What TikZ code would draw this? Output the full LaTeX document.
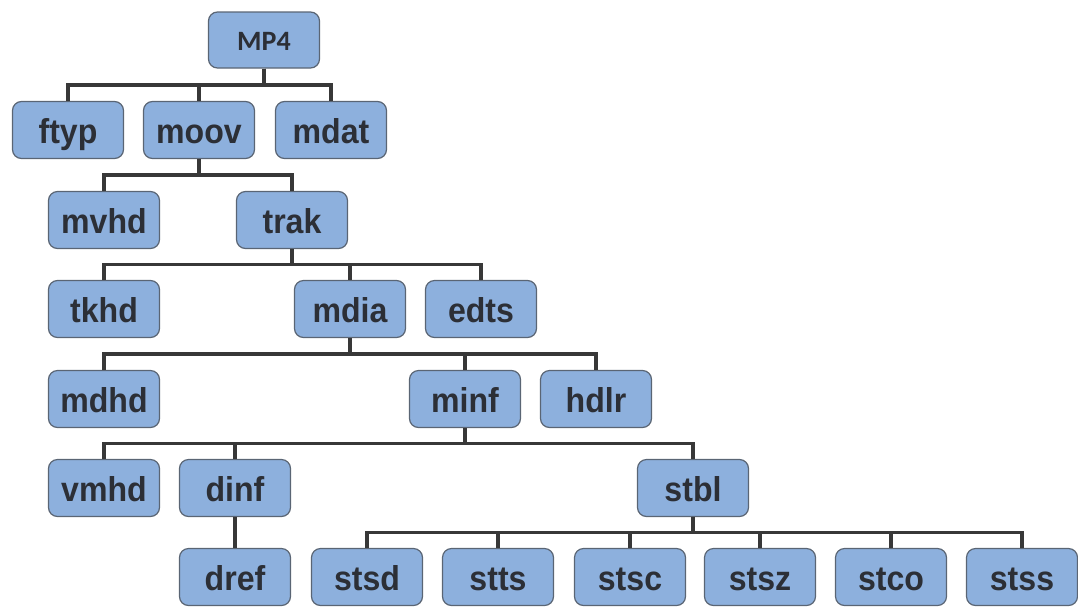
\documentclass[tikz,border=0pt]{standalone}
\usepackage{fontspec}
\setmainfont{Liberation Sans}
\newfontfamily\boxfont[FakeStretch=0.93]{Liberation Sans}
\newfontfamily\calfont{Carlito}
\usetikzlibrary{calc}
\definecolor{boxfill}{HTML}{8DB0DD}
\definecolor{boxline}{HTML}{5A6574}
\definecolor{txtcol}{HTML}{2C2F36}
\definecolor{wirecol}{HTML}{383838}
\newcommand\mylink[2]{\draw[wire] (#1.south) -- ($(#1.south)!0.5!(#1.south|-#2.north)$) -| (#2.north);}
\begin{document}
\begin{tikzpicture}[x=1pt,y=-1pt,
  box/.style={draw=boxline, line width=1.2pt, fill=boxfill, rounded corners=9pt,
    minimum width=111pt, minimum height=57pt, inner sep=0pt, text=txtcol,
    text height=26pt, text depth=0pt,
    font=\boxfont\fontsize{34.5}{34.5}\selectfont\bfseries},
  wire/.style={draw=wirecol, line width=3.8pt}]
\useasboundingbox (0,0) rectangle (1078,606);
% row 0
\node[box, minimum height=56pt, text height=21pt, font=\calfont\fontsize{28}{28}\selectfont\bfseries] (mp4) at (264,40) {MP4};
% row 1
\node[box] (ftyp) at (68,130) {ftyp};
\node[box] (moov) at (199,130) {moov};
\node[box] (mdat) at (331,130) {mdat};
% row 2
\node[box] (mvhd) at (104,220) {mvhd};
\node[box] (trak) at (292,220) {trak};
% row 3
\node[box] (tkhd) at (104,309) {tkhd};
\node[box] (mdia) at (350,309) {mdia};
\node[box] (edts) at (481,309) {edts};
% row 4
\node[box] (mdhd) at (104,399) {mdhd};
\node[box] (minf) at (465,399) {minf};
\node[box] (hdlr) at (596,399) {hdlr};
% row 5
\node[box] (vmhd) at (104,488) {vmhd};
\node[box] (dinf) at (235,488) {dinf};
\node[box] (stbl) at (693,488) {stbl};
% row 6
\node[box] (dref) at (235,577) {dref};
\node[box] (stsd) at (367,577) {stsd};
\node[box] (stts) at (498,577) {stts};
\node[box] (stsc) at (630,577) {stsc};
\node[box] (stsz) at (760,577) {stsz};
\node[box] (stco) at (891,577) {stco};
\node[box] (stss) at (1022,577) {stss};
% connectors
\mylink{mp4}{ftyp}\mylink{mp4}{moov}\mylink{mp4}{mdat}
\mylink{moov}{mvhd}\mylink{moov}{trak}
\mylink{trak}{tkhd}\mylink{trak}{mdia}\mylink{trak}{edts}
\mylink{mdia}{mdhd}\mylink{mdia}{minf}\mylink{mdia}{hdlr}
\mylink{minf}{vmhd}\mylink{minf}{dinf}\mylink{minf}{stbl}
\mylink{dinf}{dref}
\mylink{stbl}{stsd}\mylink{stbl}{stts}\mylink{stbl}{stsc}\mylink{stbl}{stsz}\mylink{stbl}{stco}\mylink{stbl}{stss}
\end{tikzpicture}
\end{document}
